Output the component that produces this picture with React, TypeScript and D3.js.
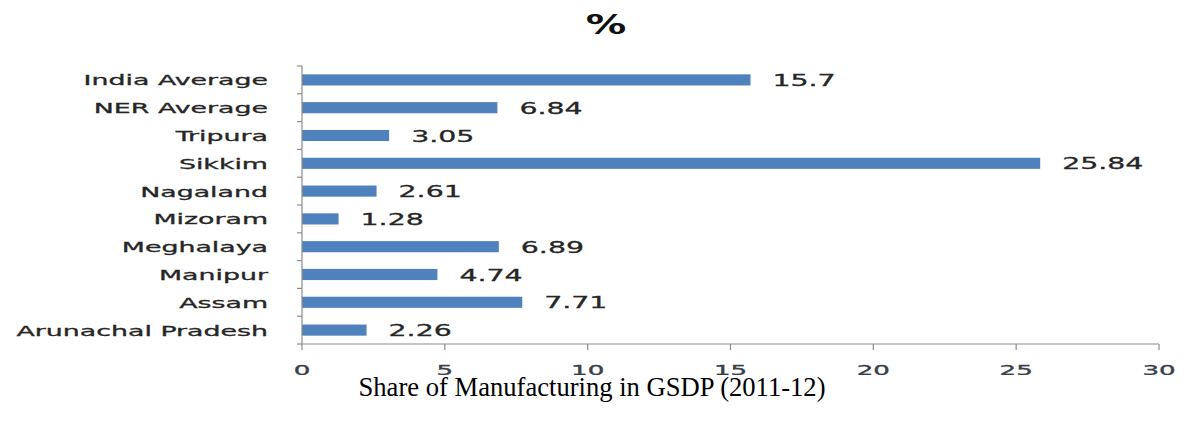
import React from "react";
import * as d3 from "d3";

const categories = [
  "India Average",
  "NER Average",
  "Tripura",
  "Sikkim",
  "Nagaland",
  "Mizoram",
  "Meghalaya",
  "Manipur",
  "Assam",
  "Arunachal Pradesh",
];
const values = [15.7, 6.84, 3.05, 25.84, 2.61, 1.28, 6.89, 4.74, 7.71, 2.26];
const valueLabels = ["15.7", "6.84", "3.05", "25.84", "2.61", "1.28", "6.89", "4.74", "7.71", "2.26"];
const xTicks = [0, 5, 10, 15, 20, 25, 30];
const title = "%";
const caption = "Share of Manufacturing in GSDP (2011-12)";

const W = 1184;
const H = 423;
const left = 302;
const right = 1159;
const top = 66;
const bottom = 344;

const FONT = "'DejaVu Sans', Verdana, sans-serif";
const SX = 1.8;

export default function App() {
  const x = d3.scaleLinear().domain([0, 30]).range([left, right]);
  const y = d3
    .scaleBand<string>()
    .domain(categories)
    .range([top, bottom])
    .paddingInner(0.6)
    .paddingOuter(0.3);
  const step = (bottom - top) / categories.length;
  const boundaries = d3.range(categories.length + 1).map((i) => top + i * step);
  const axisColor = "#8c8c8c";

  return (
    <svg
      width={W}
      height={H}
      style={{ position: "absolute", left: 0, top: 0, background: "#fff" }}
    >
      <defs>
        <clipPath id="tickClip">
          <rect x={0} y={bottom + 8} width={W} height={375 - bottom - 8} />
        </clipPath>
      </defs>
      <text
        transform={`translate(606,34) scale(1.5,1)`}
        textAnchor="middle"
        fontFamily={FONT}
        fontWeight="bold"
        fontSize={27}
        fill="#111"
      >
        {title}
      </text>

      {categories.map((c, i) => (
        <rect
          key={c}
          x={x(0)}
          y={y(c)!}
          width={x(values[i]) - x(0)}
          height={y.bandwidth()}
          fill="#4f81bd"
        />
      ))}

      {/* y axis */}
      <line x1={left} x2={left} y1={top} y2={bottom} stroke={axisColor} strokeWidth={1.2} />
      {boundaries.map((b, i) => (
        <line key={i} x1={left - 5} x2={left} y1={b} y2={b} stroke={axisColor} strokeWidth={1.2} />
      ))}
      {/* x axis */}
      <line x1={left} x2={right} y1={bottom} y2={bottom} stroke={axisColor} strokeWidth={1.2} />
      {xTicks.map((t) => (
        <line key={t} x1={x(t)} x2={x(t)} y1={bottom} y2={bottom + 6} stroke={axisColor} strokeWidth={1.2} />
      ))}
      <g clipPath="url(#tickClip)">
        {xTicks.map((t) => (
          <text
            key={t}
            transform={`translate(${x(t)},${bottom + 31}) scale(${SX},1)`}
            textAnchor="middle"
            fontFamily={FONT}
            fontSize={14.5}
            fill="#3a3f4a"
            stroke="#3a3f4a"
            strokeWidth={0.35}
          >
            {t}
          </text>
        ))}
      </g>

      {categories.map((c) => (
        <text
          key={c}
          transform={`translate(268,${y(c)! + y.bandwidth() / 2 + 5.5}) scale(1.85,1)`}
          textAnchor="end"
          fontFamily={FONT}
          fontSize={14.5}
          fill="#262626"
          stroke="#262626"
          strokeWidth={0.3}
        >
          {c}
        </text>
      ))}

      {categories.map((c, i) => (
        <text
          key={c}
          transform={`translate(${x(values[i]) + 22},${y(c)! + y.bandwidth() / 2 + 6}) scale(1.72,1)`}
          textAnchor="start"
          fontFamily={FONT}
          fontSize={16.5}
          fill="#262626"
          stroke="#262626"
          strokeWidth={0.3}
        >
          {valueLabels[i]}
        </text>
      ))}

      <text
        x={592}
        y={396}
        textAnchor="middle"
        fontFamily="'Liberation Serif', 'Times New Roman', serif"
        fontSize={26.6}
        fill="#000"
      >
        {caption}
      </text>
    </svg>
  );
}
